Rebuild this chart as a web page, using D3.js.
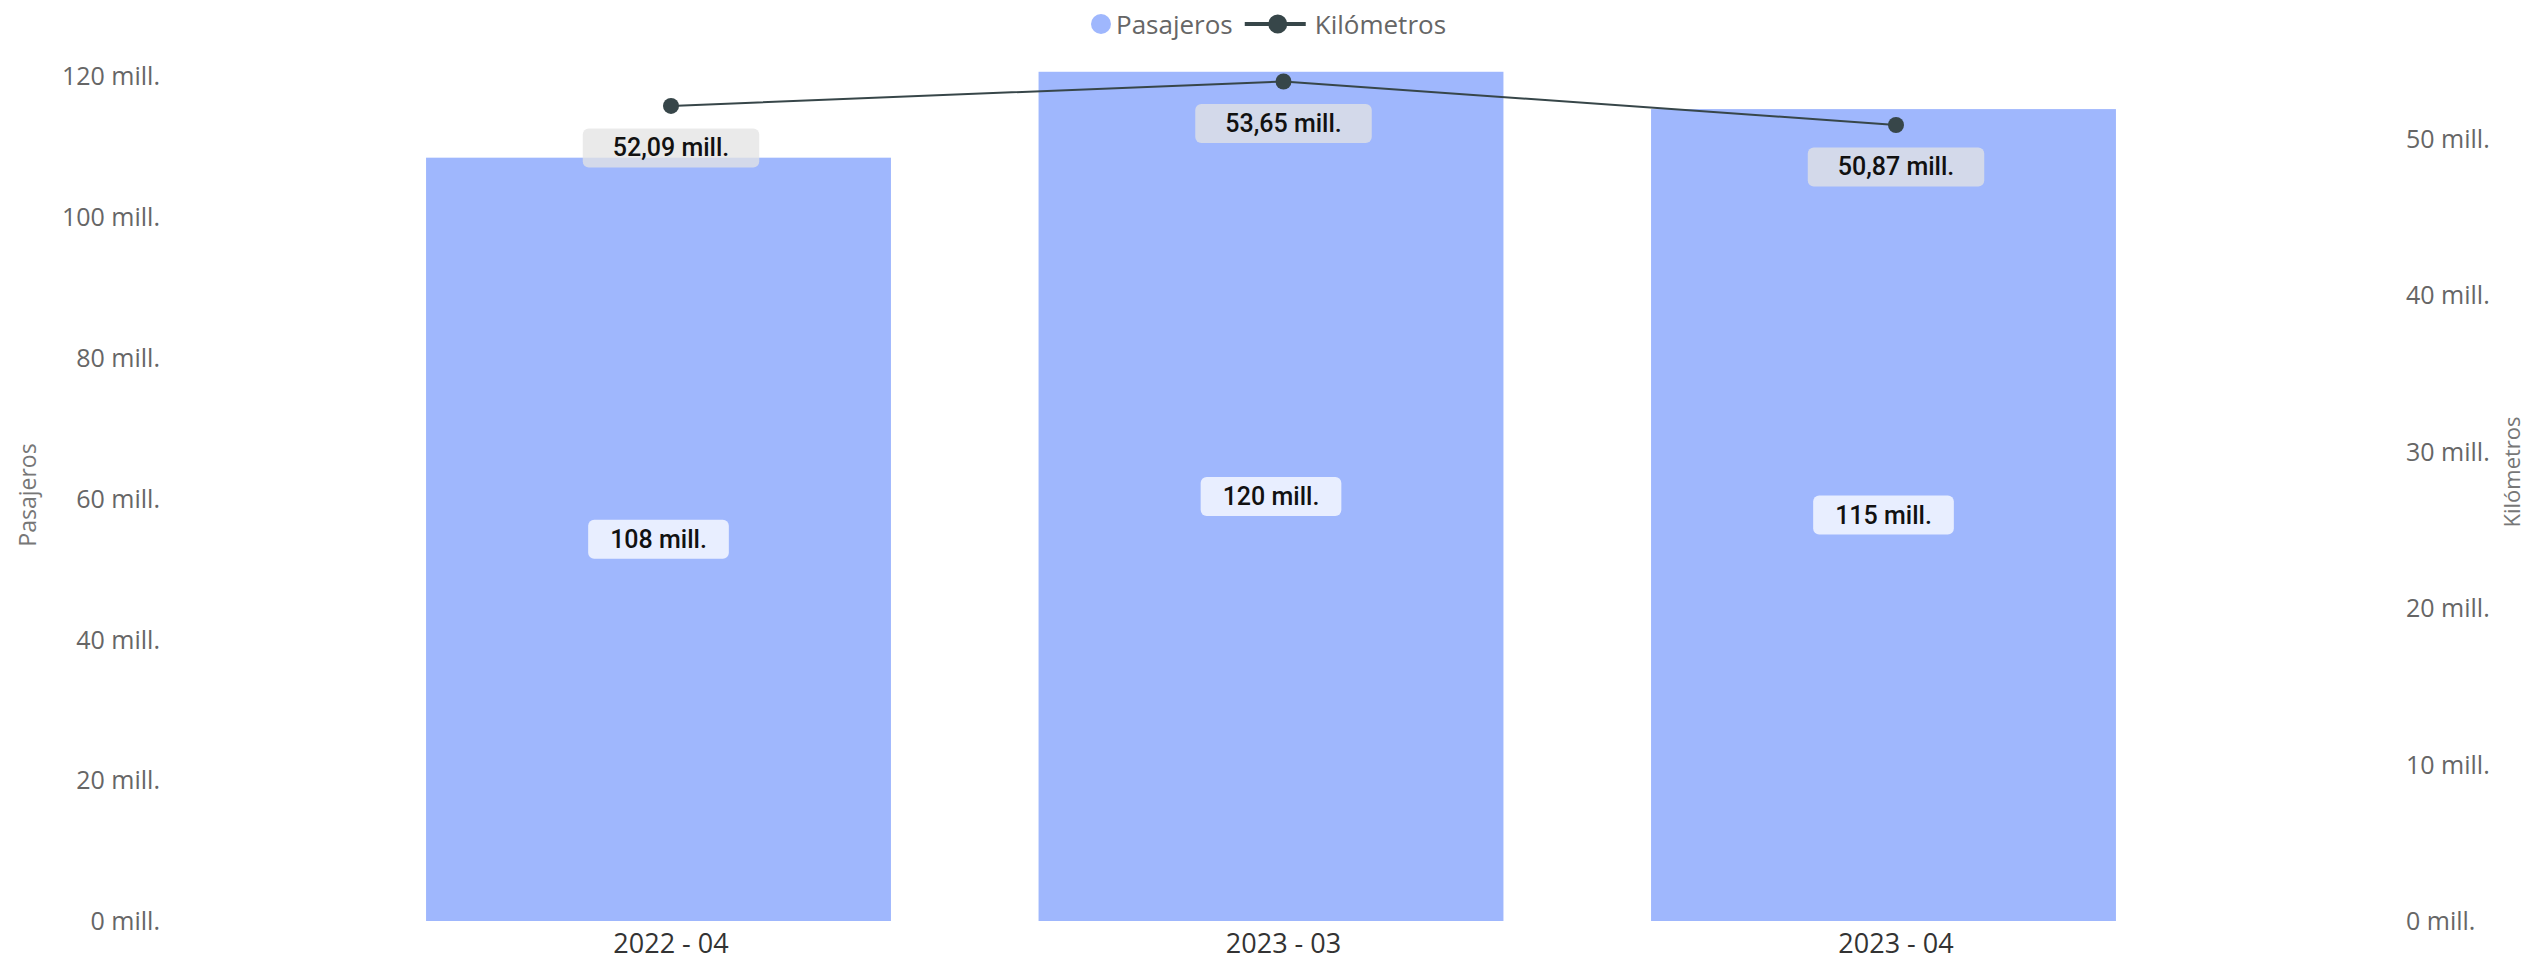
<!DOCTYPE html>
<html>
<head>
<meta charset="utf-8">
<script src="https://cdn.jsdelivr.net/npm/d3@7/dist/d3.min.js"></script>
<style>
  html, body { margin: 0; padding: 0; background: #fff; }
  svg { display: block; }
</style>
</head>
<body>
<svg id="chart" width="2530" height="962"></svg>
<script>
// ---- data ----
const categories = ["2022 - 04", "2023 - 03", "2023 - 04"];
const pasajeros = [108.4, 120.6, 115.3];      // millions
const kilometros = [52.09, 53.65, 50.87];     // millions
const pasajerosLabels = ["108 mill.", "120 mill.", "115 mill."];
const kilometrosLabels = ["52,09 mill.", "53,65 mill.", "50,87 mill."];
const leftTicks = [0, 20, 40, 60, 80, 100, 120];
const rightTicks = [0, 10, 20, 30, 40, 50];
const seriesNames = ["Pasajeros", "Kilómetros"];

// ---- styles ----
const barColor = "#9fb7fd";
const lineColor = "#374649";
const axisColor = "#666666";
const plotTop = 76, plotBottom = 921;

const svg = d3.select("#chart");

const x = d3.scaleBand().domain(categories).range([364.75, 2202.25]).padding(0);
const yL = d3.scaleLinear().domain([0, 120]).range([plotBottom, plotTop]);
const yR = d3.scaleLinear().domain([0, 54]).range([plotBottom, plotTop]);
const cx = c => x(c) + x.bandwidth() / 2;
const barW = x.bandwidth() * 0.759;
const barShift = -12.5;

// ---- left axis ----
const leftAxis = svg.append("g").attr("transform", "translate(160,0)")
  .call(d3.axisLeft(yL).tickValues(leftTicks).tickSize(0).tickPadding(0)
    .tickFormat(d => d + " mill."));
leftAxis.select(".domain").remove();
leftAxis.selectAll("text")
  .attr("font-family", "'Open Sans', sans-serif").attr("font-size", 25)
  .attr("fill", axisColor).attr("dy", "0.35em");

// ---- right axis ----
const rightAxis = svg.append("g").attr("transform", "translate(2406,0)")
  .call(d3.axisRight(yR).tickValues(rightTicks).tickSize(0).tickPadding(0)
    .tickFormat(d => d + " mill."));
rightAxis.select(".domain").remove();
rightAxis.selectAll("text")
  .attr("font-family", "'Open Sans', sans-serif").attr("font-size", 25)
  .attr("fill", axisColor).attr("dy", "0.35em");

// axis titles
svg.append("text").attr("transform", "translate(27,495) rotate(-90)")
  .attr("text-anchor", "middle").attr("dominant-baseline", "central")
  .attr("font-family", "'Open Sans', sans-serif").attr("font-size", 23)
  .attr("fill", "#777").text(seriesNames[0]);
svg.append("text").attr("transform", "translate(2511,472) rotate(-90)")
  .attr("text-anchor", "middle").attr("dominant-baseline", "central")
  .attr("font-family", "'Open Sans', sans-serif").attr("font-size", 22)
  .attr("fill", "#777").text(seriesNames[1]);

// ---- x axis ----
const xAxis = svg.append("g").attr("transform", `translate(0,${plotBottom})`)
  .call(d3.axisBottom(x).tickSize(0).tickPadding(0));
xAxis.select(".domain").remove();
xAxis.selectAll("text")
  .attr("y", 23).attr("dy", "0.35em")
  .attr("font-family", "'Open Sans', sans-serif").attr("font-size", 27)
  .attr("fill", "#333");

// ---- bars ----
svg.append("g").selectAll("rect").data(categories).join("rect")
  .attr("x", (c) => cx(c) + barShift - barW / 2)
  .attr("width", barW)
  .attr("y", (c, i) => yL(pasajeros[i]))
  .attr("height", (c, i) => yL(0) - yL(pasajeros[i]))
  .attr("fill", barColor);

// ---- line ----
const line = d3.line().x((d, i) => cx(categories[i])).y(d => yR(d));
svg.append("path").datum(kilometros).attr("d", line)
  .attr("fill", "none").attr("stroke", lineColor).attr("stroke-width", 2);
svg.append("g").selectAll("circle").data(kilometros).join("circle")
  .attr("cx", (d, i) => cx(categories[i])).attr("cy", d => yR(d))
  .attr("r", 8).attr("fill", lineColor);

// ---- data labels ----
function label(g, text, xc, yc, padX, fill, opacity) {
  const grp = g.append("g");
  const rect = grp.append("rect");
  const t = grp.append("text").attr("x", xc).attr("y", yc)
    .attr("text-anchor", "middle").attr("dominant-baseline", "central")
    .attr("font-family", "Roboto, sans-serif").attr("font-size", 25).attr("font-weight", 500)
    .attr("fill", "#111").text(text);
  const w = t.node().getComputedTextLength() + 2 * padX;
  rect.attr("x", xc - w / 2).attr("y", yc - 19.5).attr("width", w).attr("height", 39)
    .attr("rx", 6).attr("fill", fill).attr("fill-opacity", opacity);
}
const lg = svg.append("g");
categories.forEach((c, i) => {
  const yTop = yL(pasajeros[i]);
  label(lg, pasajerosLabels[i], cx(c) + barShift, (yTop + yL(0)) / 2, 22, "#ffffff", 0.76);
});
categories.forEach((c, i) => {
  label(lg, kilometrosLabels[i], cx(c), yR(kilometros[i]) + 42, 30, "#e4e4e4", 0.76);
});

// ---- legend ----
const leg = svg.append("g").attr("transform", "translate(0,24)");
leg.append("circle").attr("cx", 1101).attr("cy", 0).attr("r", 10).attr("fill", barColor);
const t1 = leg.append("text").attr("x", 1116).attr("y", 0).attr("dominant-baseline", "central")
  .attr("font-family", "'Open Sans', sans-serif").attr("font-size", 26)
  .attr("fill", axisColor).text(seriesNames[0]);
const e1 = 1116 + t1.node().getComputedTextLength();
const lx0 = e1 + 12;
leg.append("line").attr("x1", lx0).attr("x2", lx0 + 61).attr("y1", 0).attr("y2", 0)
  .attr("stroke", lineColor).attr("stroke-width", 4);
leg.append("circle").attr("cx", lx0 + 33).attr("cy", 0).attr("r", 9.5).attr("fill", lineColor);
leg.append("text").attr("x", lx0 + 70).attr("y", 0).attr("dominant-baseline", "central")
  .attr("font-family", "'Open Sans', sans-serif").attr("font-size", 26)
  .attr("fill", axisColor).text(seriesNames[1]);
</script>
</body>
</html>
